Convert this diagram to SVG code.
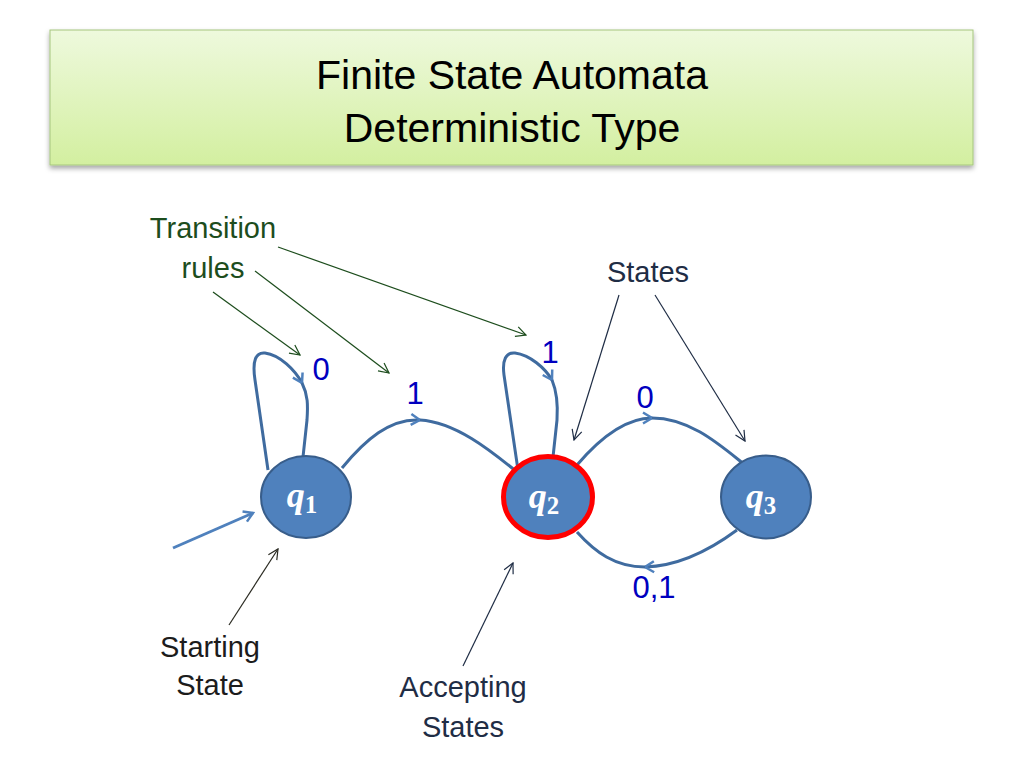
<svg xmlns="http://www.w3.org/2000/svg" width="1024" height="768" viewBox="0 0 1024 768">
<style>
.title{font-family:"Liberation Sans",Arial,sans-serif;font-size:41px;fill:#000;text-anchor:middle}
.ann{font-family:"Liberation Sans",Arial,sans-serif;font-size:29px;text-anchor:middle}
.lbl{font-family:"Liberation Sans",Arial,sans-serif;font-size:31px;fill:#0000bf;text-anchor:middle}
.node{fill:#4f81bd;stroke:#385d8a;stroke-width:2}
.acc{fill:#4f81bd;stroke:#ff0000;stroke-width:5}
.nt{font-family:"Liberation Serif","DejaVu Serif",serif;font-weight:bold;fill:#fff;text-anchor:middle}
.edge{fill:none;stroke:#3f6b9f;stroke-width:3}
.thin{fill:none;stroke-width:1.2}
</style>
<defs>
<linearGradient id="tg" x1="0" y1="0" x2="0" y2="1">
<stop offset="0" stop-color="#eef9dd"/>
<stop offset="1" stop-color="#d3efa0"/>
</linearGradient>
<filter id="sh" x="-5%" y="-10%" width="110%" height="130%">
<feDropShadow dx="0" dy="3" stdDeviation="2.5" flood-color="#000" flood-opacity="0.35"/>
</filter>
<marker id="bv" viewBox="0 0 14 14" refX="12" refY="7" markerWidth="14" markerHeight="14" markerUnits="userSpaceOnUse" orient="auto">
<path d="M3,1.5 L12,7 L3,12.5" fill="none" stroke="#4f81bd" stroke-width="2.5"/>
</marker>
<marker id="gv" viewBox="0 0 12 12" refX="11" refY="6" markerWidth="12" markerHeight="12" markerUnits="userSpaceOnUse" orient="auto">
<path d="M1,1 L11,6 L1,11" fill="none" stroke="#1d4d1d" stroke-width="1.2"/>
</marker>
<marker id="nv" viewBox="0 0 12 12" refX="11" refY="6" markerWidth="12" markerHeight="12" markerUnits="userSpaceOnUse" orient="auto">
<path d="M1,1 L11,6 L1,11" fill="none" stroke="#1f2d45" stroke-width="1.2"/>
</marker>
<marker id="dv" viewBox="0 0 12 12" refX="11" refY="6" markerWidth="12" markerHeight="12" markerUnits="userSpaceOnUse" orient="auto">
<path d="M1,1 L11,6 L1,11" fill="none" stroke="#2b2b22" stroke-width="1.2"/>
</marker>
</defs>
<rect width="1024" height="768" fill="#fff"/>
<g id="title">
<rect x="50" y="30" width="923" height="135" fill="url(#tg)" stroke="#a6c67e" stroke-width="1" filter="url(#sh)"/>
<text class="title" x="512" y="89">Finite State Automata</text>
<text class="title" x="512" y="142">Deterministic Type</text>
</g>
<g id="connectors">
<path class="edge" d="M268,470 L255,380 C252,360 256,352 265,353 C280,355 295,370 302,383" marker-end="url(#bv)"/>
<path class="edge" d="M302,383 C308,395 308,405 307,420 L303,457"/>
<path class="edge" d="M342,468 C365,440 390,418 420,420" marker-end="url(#bv)"/>
<path class="edge" d="M420,420 C455,422 490,450 517,472"/>
<path class="edge" d="M518,470 L504,375 C502,360 506,352 515,353 C530,355 545,368 552,380" marker-end="url(#bv)"/>
<path class="edge" d="M552,380 C557,392 558,405 557,420 L553,457"/>
<path class="edge" d="M577,465 C600,438 625,418 652,418" marker-end="url(#bv)"/>
<path class="edge" d="M652,418 C690,418 720,445 745,465"/>
<path class="edge" d="M737,530 C710,550 680,566 645,567" marker-end="url(#bv)"/>
<path class="edge" d="M645,567 C615,567 595,552 577,532"/>
<path d="M173,548 L253,513" fill="none" stroke="#4f81bd" stroke-width="3" marker-end="url(#bv)"/>
<path class="thin" stroke="#1d4d1d" d="M278,247 L526,335" marker-end="url(#gv)"/>
<path class="thin" stroke="#1d4d1d" d="M255,271 L389,373" marker-end="url(#gv)"/>
<path class="thin" stroke="#1d4d1d" d="M213,292 L300,355" marker-end="url(#gv)"/>
<path class="thin" stroke="#1f2d45" d="M619,295 L574,440" marker-end="url(#nv)"/>
<path class="thin" stroke="#1f2d45" d="M655,295 L745,441" marker-end="url(#nv)"/>
<path class="thin" stroke="#2b2b22" d="M229,625 L278,549" marker-end="url(#dv)"/>
<path class="thin" stroke="#1f2d45" d="M463,666 L513,563" marker-end="url(#nv)"/>
</g>
<g id="labels">
<text class="lbl" x="321" y="380">0</text>
<text class="lbl" x="415" y="404">1</text>
<text class="lbl" x="550" y="363">1</text>
<text class="lbl" x="645" y="408">0</text>
<text class="lbl" x="654" y="598">0,1</text>
</g>
<g id="q1">
<ellipse class="node" cx="306" cy="497" rx="45" ry="41"/>
<text class="nt" x="302" y="507"><tspan font-style="italic" font-size="36">q</tspan><tspan font-size="25" dy="6">1</tspan></text>
</g>
<g id="q2">
<ellipse class="acc" cx="548" cy="497" rx="44.5" ry="40.5"/>
<text class="nt" x="544" y="508"><tspan font-style="italic" font-size="36">q</tspan><tspan font-size="25" dy="6">2</tspan></text>
</g>
<g id="q3">
<ellipse class="node" cx="766" cy="497" rx="45" ry="41.5"/>
<text class="nt" x="761" y="508"><tspan font-style="italic" font-size="36">q</tspan><tspan font-size="25" dy="6">3</tspan></text>
</g>
<g id="ann-transition">
<text class="ann" x="213" y="238" fill="#1d4d1d">Transition</text>
<text class="ann" x="213" y="278" fill="#1d4d1d">rules</text>
</g>
<g id="ann-states">
<text class="ann" x="648" y="282" fill="#1f2d45">States</text>
</g>
<g id="ann-starting">
<text class="ann" x="210" y="657" fill="#1c1c1c">Starting</text>
<text class="ann" x="210" y="695" fill="#1c1c1c">State</text>
</g>
<g id="ann-accepting">
<text class="ann" x="463" y="697" fill="#1f2d45">Accepting</text>
<text class="ann" x="463" y="737" fill="#1f2d45">States</text>
</g>
</svg>
